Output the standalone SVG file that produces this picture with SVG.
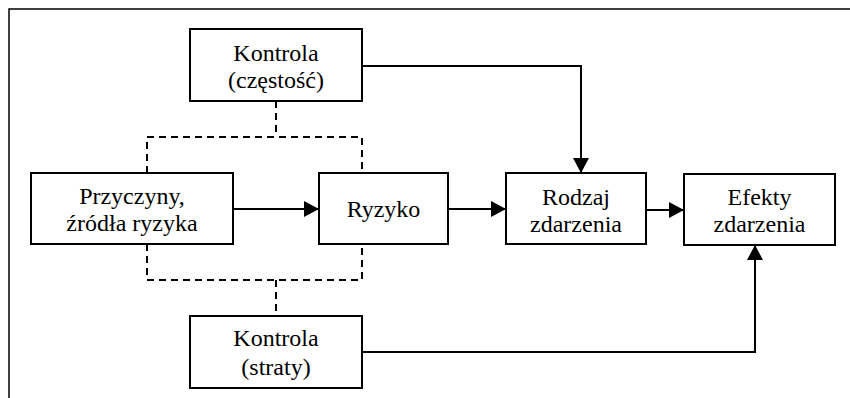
<svg xmlns="http://www.w3.org/2000/svg" width="850" height="398" viewBox="0 0 850 398">
<style>
.box{fill:#fff;stroke:#000;stroke-width:2}
.t{font-family:'Liberation Serif','Times New Roman','DejaVu Serif',serif;font-size:24px;fill:#000;text-anchor:middle}
.c{fill:none;stroke:#000;stroke-width:2}
.d{fill:none;stroke:#000;stroke-width:2;stroke-dasharray:7,5}
</style>
<defs>
<marker id="ah" markerUnits="userSpaceOnUse" markerWidth="16" markerHeight="16" refX="15" refY="8" orient="auto">
<path d="M0,0 L15,8 L0,16 Z" fill="#000"/>
</marker>
</defs>
<rect width="850" height="398" fill="#fff"/>
<path d="M850,9 H9 V398" fill="none" stroke="#000" stroke-width="1.5"/>
<g id="connectors">
<path class="d" d="M276,101 V137 M147,173 V137 H362 V173"/>
<path class="d" d="M147,244 V280 H362 V244 M276,280 V316"/>
<path class="c" d="M233,209 H319" marker-end="url(#ah)"/>
<path class="c" d="M448,209 H506" marker-end="url(#ah)"/>
<path class="c" d="M646,210 H684" marker-end="url(#ah)"/>
<path class="c" d="M362,66 H581 V173" marker-end="url(#ah)"/>
<path class="c" d="M362,352 H755 V245" marker-end="url(#ah)"/>
</g>
<g id="kontrola-czestosc">
<rect class="box" x="190" y="29" width="172" height="72"/>
<text class="t" font-family="Liberation Serif, serif" x="276" y="61">Kontrola</text>
<text class="t" font-family="Liberation Serif, serif" x="276" y="88">(częstość)</text>
</g>
<g id="przyczyny">
<rect class="box" x="31" y="173" width="202" height="71"/>
<text class="t" font-family="Liberation Serif, serif" x="132" y="204">Przyczyny,</text>
<text class="t" font-family="Liberation Serif, serif" x="132" y="231">źródła ryzyka</text>
</g>
<g id="ryzyko">
<rect class="box" x="319" y="173" width="129" height="71"/>
<text class="t" font-family="Liberation Serif, serif" x="383.5" y="217">Ryzyko</text>
</g>
<g id="rodzaj">
<rect class="box" x="506" y="173" width="140" height="71"/>
<text class="t" font-family="Liberation Serif, serif" x="576" y="205">Rodzaj</text>
<text class="t" font-family="Liberation Serif, serif" x="576" y="232">zdarzenia</text>
</g>
<g id="efekty">
<rect class="box" x="684" y="174" width="151" height="71"/>
<text class="t" font-family="Liberation Serif, serif" x="759.5" y="205">Efekty</text>
<text class="t" font-family="Liberation Serif, serif" x="759.5" y="232">zdarzenia</text>
</g>
<g id="kontrola-straty">
<rect class="box" x="190" y="316" width="172" height="72"/>
<text class="t" font-family="Liberation Serif, serif" x="276" y="346">Kontrola</text>
<text class="t" font-family="Liberation Serif, serif" x="276" y="375">(straty)</text>
</g>
</svg>
